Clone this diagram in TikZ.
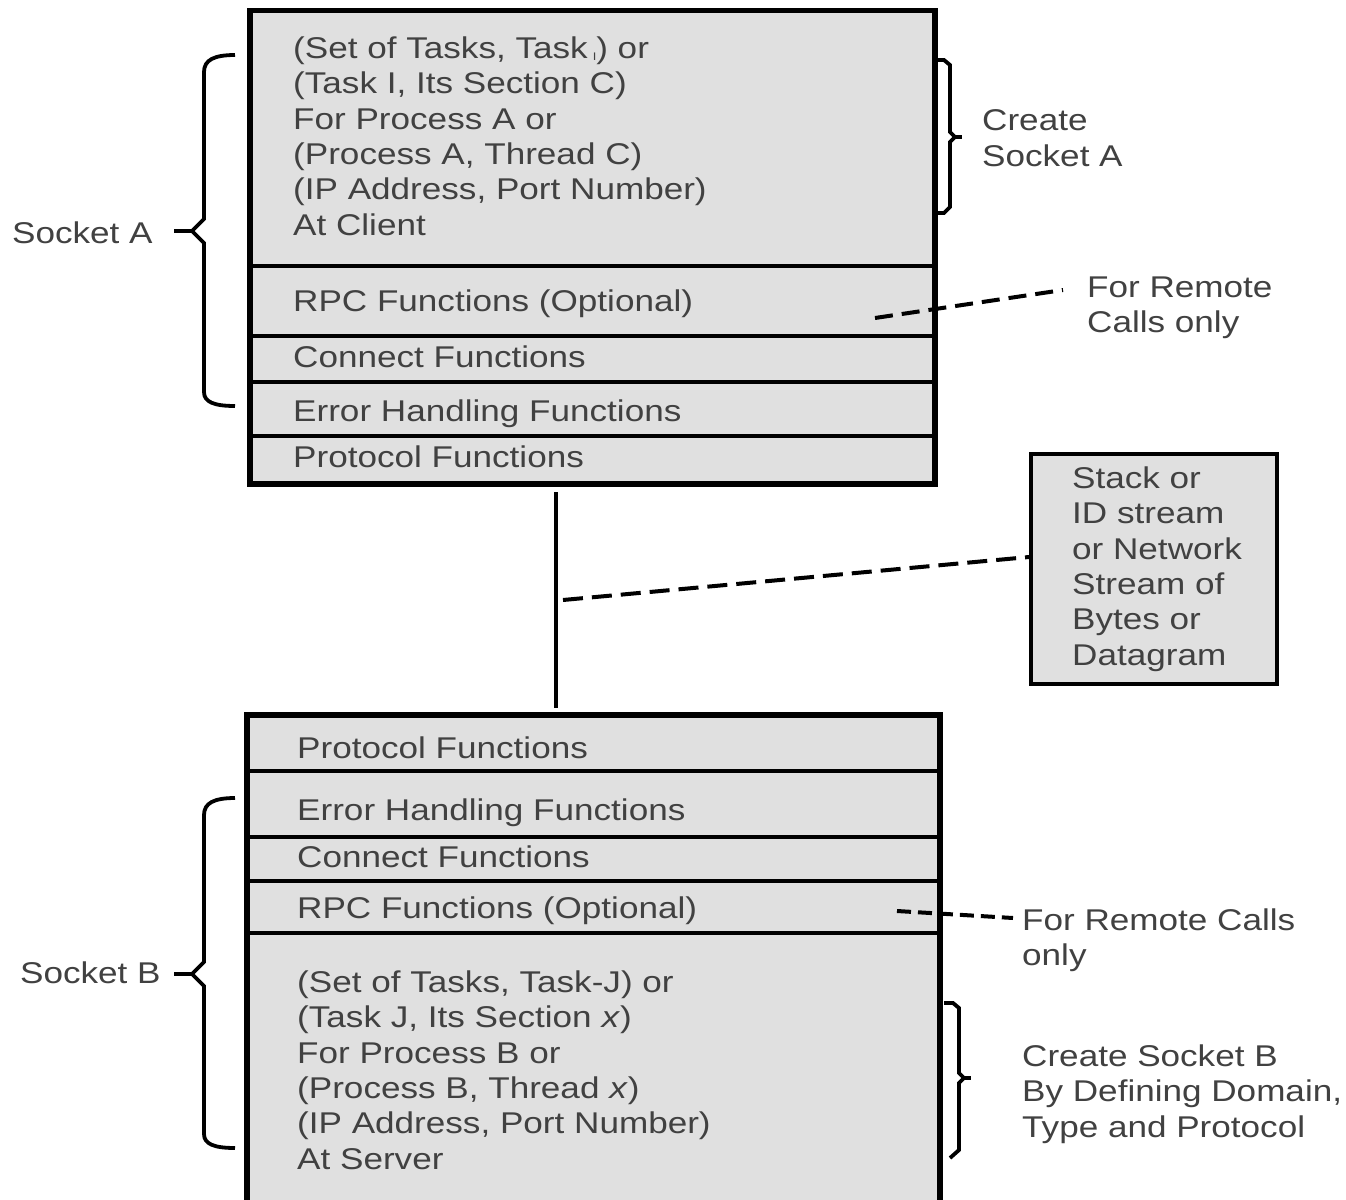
\documentclass[tikz,border=0pt]{standalone}
\usepackage{fontspec}
\setmainfont{Liberation Sans}[FakeStretch=1.17]
\definecolor{cellfill}{RGB}{224,224,224}
\definecolor{txt}{RGB}{65,65,65}
\begin{document}
\begin{tikzpicture}[x=1pt,y=-1pt,
  rowA/.style={draw=black,line width=3.5pt,fill=cellfill,inner sep=0pt,anchor=north west,minimum width=683pt,minimum height=#1},
  rowB/.style={draw=black,line width=3.5pt,fill=cellfill,inner sep=0pt,anchor=north west,minimum width=691pt,minimum height=#1},
  lbl/.style={inner sep=0pt,text=txt,font=\fontsize{30}{35.4}\selectfont,align=left},
  sline/.style={lbl,anchor=base west},
  mline/.style={lbl,anchor=west},
  brace/.style={draw=black,line width=3.8pt,line join=miter},
  conn/.style={draw=black,line width=4pt},
  dconn/.style={draw=black,line width=4pt,dash pattern=on 20pt off 9pt}]
\useasboundingbox (0,0) rectangle (1346,1199);
\clip (0,0) rectangle (1346,1199);
\fill[white] (0,0) rectangle (1346,1199);

% ---- Socket A box
\node[rowA=254pt] (a1) at (249,10) {};
\node[rowA=70pt]  (a2) at (249,264) {};
\node[rowA=46pt]  (a3) at (249,334) {};
\node[rowA=54pt]  (a4) at (249,380) {};
\node[rowA=47pt]  (a5) at (249,434) {};
\draw[line width=4.5pt] (a1.north west) rectangle (a5.south east);

\node[mline] (ta1) at (293,136) {(Set of Tasks, Task\,\raisebox{-2pt}{\fontsize{11}{11}\selectfont I}) or\\(Task I, Its Section C)\\For Process A or\\(Process A, Thread C)\\(IP Address, Port Number)\\At Client};
\node[sline] (ta2) at (293,311) {RPC Functions (Optional)};
\node[sline] (ta3) at (293,367) {Connect Functions};
\node[sline] (ta4) at (293,421) {Error Handling Functions};
\node[sline] (ta5) at (293,467) {Protocol Functions};

% ---- Socket B box
\node[rowB=55pt]  (b1) at (246,714) {};
\node[rowB=66pt]  (b2) at (246,769) {};
\node[rowB=44pt]  (b3) at (246,835) {};
\node[rowB=52pt]  (b4) at (246,879) {};
\node[rowB=300pt] (b5) at (246,931) {};
\draw[line width=4.5pt] (b1.north west) rectangle (b5.south east);

\node[sline] (tb1) at (297,758) {Protocol Functions};
\node[sline] (tb2) at (297,820) {Error Handling Functions};
\node[sline] (tb3) at (297,867) {Connect Functions};
\node[sline] (tb4) at (297,918) {RPC Functions (Optional)};
\node[mline] (tb5) at (297,1070) {(Set of Tasks, Task-J) or\\(Task J, Its Section \textit{x})\\For Process B or\\(Process B, Thread \textit{x})\\(IP Address, Port Number)\\At Server};

% ---- Stack box
\node[draw=black,line width=4pt,fill=cellfill,inner sep=0pt,anchor=north west,minimum width=246pt,minimum height=230pt] (stack) at (1029,452) {};
\node[mline] (stacktxt) at (1072,569) {Stack or\\ID stream\\or Network\\Stream of\\Bytes or\\Datagram};

% ---- side labels
\node[sline] (sockA) at (12,243) {Socket A};
\node[sline] (sockB) at (20,983) {Socket B};
\node[mline] (createA) at (982,138) {Create\\Socket A};
\node[mline] (remA) at (1087,308) {For Remote\\Calls only};
\node[mline] (remB) at (1022,940) {For Remote Calls\\only};
\node[mline] (createB) at (1022,1094) {Create Socket B\\By Defining Domain,\\Type and Protocol};

% ---- braces
\draw[brace] (235,55) .. controls (214,55) and (204,60) .. (204,72) -- (204,219) -- (192,231) -- (204,243) -- (204,392) .. controls (204,402) and (214,406) .. (235,406);
\draw[brace] (174,231) -- (192,231);
\draw[brace] (235,798) .. controls (214,798) and (204,803) .. (204,815) -- (204,962) -- (192,974) -- (204,986) -- (204,1134) .. controls (204,1144) and (214,1148) .. (235,1148);
\draw[brace] (174,974) -- (192,974);
\draw[brace] (933,60) -- (944,60) -- (950,65) -- (950,132) -- (955,137) -- (950,142) -- (950,207) -- (944,213) -- (933,213);
\draw[brace] (955,137) -- (962,137);
\draw[brace] (944,1003) -- (953,1003) -- (959,1008) -- (959,1073) -- (964,1078) -- (959,1083) -- (959,1150) -- (950,1158);
\draw[brace] (964,1078) -- (971,1078);

% ---- connectors
\coordinate (v1) at (556,492);
\coordinate (v2) at (556,708);
\draw[conn] (v1) -- (v2);
\coordinate (d1) at (563,600);
\draw[dconn] (d1) -- ([yshift=12pt]stack.west);
\coordinate (r1) at (875,318);
\coordinate (r2) at (1063,290);
\draw[dconn,dash pattern=on 18pt off 9pt] (r1) -- (r2);
\coordinate (q1) at (897,911);
\coordinate (q2) at (1013,918);
\draw[dconn,dash pattern=on 14pt off 7pt] (q1) -- (q2);
\end{tikzpicture}
\end{document}
